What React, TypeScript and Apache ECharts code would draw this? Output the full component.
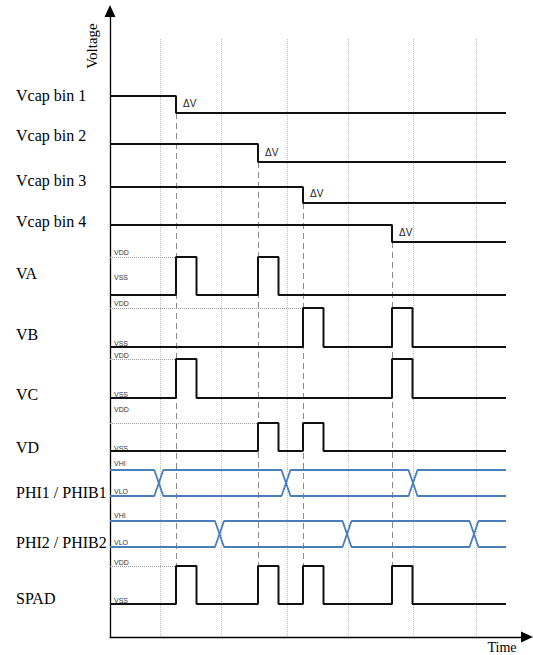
import React, { useEffect, useRef } from "react";
import * as echarts from "echarts";

// ---------------- data (time units, levels 0 = low, 1 = high) ----------------
const END_T = 39.6;
const X_MAX = 41.7;
const GRID_TIMES = [5.0, 11.1, 17.7, 23.8, 30.3, 36.6];
const VCAP_NAMES = ["Vcap bin 1", "Vcap bin 2", "Vcap bin 3", "Vcap bin 4"];
const VCAP_STEP_TIMES = [6.6, 14.8, 19.3, 28.2];
const PULSE_WIDTH = 2.05;
const VA_PULSES = [6.6, 14.8];
const VB_PULSES = [19.3, 28.2];
const VC_PULSES = [6.6, 28.2];
const VD_PULSES = [14.8, 19.3];
const SPAD_PULSES = [6.6, 14.8, 19.3, 28.2];
const PHI1_CROSS = [4.88, 17.6, 30.3];
const PHI2_CROSS = [10.95, 23.7, 36.4];
const CROSS_WIDTH = 0.9;

// ---------------- layout (page pixels) ----------------
const AXIS_BOTTOM = 637;
const GRID_TOP_Y = 39;
const DASH_END_Y = 566;
const VCAP_LAYOUT = [
  { high: 96, low: 113, labelY: 95 },
  { high: 144, low: 162, labelY: 135 },
  { high: 187, low: 203, labelY: 180 },
  { high: 225, low: 242, labelY: 221 },
];
const PULSE_LANES = [
  { name: "VA", pulses: VA_PULSES, high: 257, low: 295, labelY: 273, hi: "VDD", lo: "VSS", hiY: 252, loY: 277 },
  { name: "VB", pulses: VB_PULSES, high: 308, low: 347, labelY: 334, hi: "VDD", lo: "VSS", hiY: 303, loY: 343 },
  { name: "VC", pulses: VC_PULSES, high: 359, low: 398, labelY: 394, hi: "VDD", lo: "VSS", hiY: 355, loY: 394 },
  { name: "VD", pulses: VD_PULSES, high: 423, low: 451, labelY: 447, hi: "VDD", lo: "VSS", hiY: 409, loY: 448 },
];
const PHI_LANES = [
  { name: "PHI1 / PHIB1", cross: PHI1_CROSS, high: 470, low: 496, labelY: 492, hi: "VHI", lo: "VLO", hiY: 463, loY: 491 },
  { name: "PHI2 / PHIB2", cross: PHI2_CROSS, high: 521, low: 547, labelY: 542, hi: "VHI", lo: "VLO", hiY: 515, loY: 542 },
];
const SPAD_LANE = { name: "SPAD", pulses: SPAD_PULSES, high: 566, low: 604, labelY: 598, hi: "VDD", lo: "VSS", hiY: 562, loY: 600 };

const GRID_LEFT = 110;
const GRID_WIDTH = 417;
const MASTER_TOP = 11;
const py = (y: number) => AXIS_BOTTOM - y;

const SERIF = "'Liberation Serif', 'Times New Roman', serif";
const SANS = "'Liberation Sans', Arial, sans-serif";
const BLUE = "#4a7ebb";
const BLACK = "#111";

function pulseData(starts: number[]) {
  const pts: number[][] = [[0, 0]];
  starts.forEach((s) => {
    pts.push([s, 0], [s, 1], [s + PULSE_WIDTH, 1], [s + PULSE_WIDTH, 0]);
  });
  pts.push([END_T, 0]);
  return pts;
}
function phiData(crosses: number[], startHigh: boolean) {
  let lvl = startHigh ? 1 : 0;
  const pts: number[][] = [[0, lvl]];
  crosses.forEach((c) => {
    pts.push([c - CROSS_WIDTH / 2, lvl]);
    lvl = 1 - lvl;
    pts.push([c + CROSS_WIDTH / 2, lvl]);
  });
  pts.push([END_T, lvl]);
  return pts;
}
function vcapData(step: number) {
  return [[0, 1], [step, 1], [step, 0], [END_T, 0]];
}

export default function App() {
  const ref = useRef<HTMLDivElement>(null);
  useEffect(() => {
    document.body.style.margin = "0";
    if (!ref.current) return;
    const chart = echarts.init(ref.current, undefined, { renderer: "svg" });

    const grids: any[] = [{ left: GRID_LEFT, top: MASTER_TOP, width: GRID_WIDTH, height: AXIS_BOTTOM - MASTER_TOP }];
    const xAxes: any[] = [
      {
        gridIndex: 0, type: "value", min: 0, max: X_MAX,
        axisLine: { show: true, symbol: ["none", "triangle"], symbolSize: [11, 12], lineStyle: { color: "#000", width: 1.3 } },
        axisTick: { show: false }, axisLabel: { show: false }, splitLine: { show: false },
      },
    ];
    const yAxes: any[] = [
      {
        gridIndex: 0, type: "value", min: 0, max: AXIS_BOTTOM - MASTER_TOP,
        axisLine: { show: true, symbol: ["none", "triangle"], symbolSize: [11, 12], lineStyle: { color: "#000", width: 1.3 } },
        axisTick: { show: false }, axisLabel: { show: false }, splitLine: { show: false },
      },
    ];
    const series: any[] = [];
    const graphics: any[] = [];

    const addLane = (high: number, low: number) => {
      const idx = grids.length;
      grids.push({ left: GRID_LEFT, width: GRID_WIDTH, top: high, height: low - high });
      xAxes.push({ gridIndex: idx, type: "value", min: 0, max: X_MAX, show: false });
      yAxes.push({ gridIndex: idx, type: "value", min: 0, max: 1, show: false });
      return idx;
    };
    const laneLabel = (text: string, y: number) =>
      graphics.push({ type: "text", x: 16, y, style: { text, font: `16px ${SERIF}`, fill: "#000", verticalAlign: "middle" } });
    const smallLabel = (text: string, y: number) =>
      graphics.push({ type: "text", x: 114, y, style: { text, font: `7px ${SANS}`, fill: "#333", verticalAlign: "middle" } });

    // vertical grid lines (dotted)
    series.push({
      type: "lines", coordinateSystem: "cartesian2d", xAxisIndex: 0, yAxisIndex: 0, silent: true,
      lineStyle: { color: "#bdbdbd", width: 1, type: "dotted", opacity: 1 },
      data: GRID_TIMES.map((t) => ({ coords: [[t, py(GRID_TOP_Y)], [t, py(AXIS_BOTTOM)]] })),
    });
    // dashed event lines
    series.push({
      type: "lines", coordinateSystem: "cartesian2d", xAxisIndex: 0, yAxisIndex: 0, silent: true,
      lineStyle: { color: "#8a8a8a", width: 1, type: [6, 4], opacity: 1 },
      data: VCAP_STEP_TIMES.map((t, i) => ({ coords: [[t, py(VCAP_LAYOUT[i].low)], [t, py(DASH_END_Y)]] })),
    });

    // Vcap lanes
    VCAP_NAMES.forEach((name, i) => {
      const L = VCAP_LAYOUT[i];
      const idx = addLane(L.high, L.low);
      series.push({
        type: "line", xAxisIndex: idx, yAxisIndex: idx, data: vcapData(VCAP_STEP_TIMES[i]),
        showSymbol: false, clip: false, lineStyle: { color: BLACK, width: 2 },
        markPoint: {
          symbol: "circle", symbolSize: 0, silent: true,
          data: [{ coord: [VCAP_STEP_TIMES[i], 0] }],
          label: { show: true, formatter: "ΔV", position: "right", distance: 5, offset: [2, -10], color: "#222", fontSize: 10, fontFamily: SANS },
        },
      });
      laneLabel(name, L.labelY);
    });

    // pulse lanes
    [...PULSE_LANES, SPAD_LANE].forEach((L) => {
      const idx = addLane(L.high, L.low);
      series.push({
        type: "lines", coordinateSystem: "cartesian2d", xAxisIndex: idx, yAxisIndex: idx, silent: true,
        lineStyle: { color: "#9a9a9a", width: 1, type: "dotted", opacity: 1 },
        data: [{ coords: [[0, 1], [L.pulses[0], 1]] }],
      });
      series.push({
        type: "line", xAxisIndex: idx, yAxisIndex: idx, data: pulseData(L.pulses),
        showSymbol: false, clip: false, lineStyle: { color: BLACK, width: 2 },
      });
      laneLabel(L.name, L.labelY);
      smallLabel(L.hi, L.hiY);
      smallLabel(L.lo, L.loY);
    });

    // clock lanes
    PHI_LANES.forEach((L) => {
      const idx = addLane(L.high, L.low);
      [true, false].forEach((startHigh) =>
        series.push({
          type: "line", xAxisIndex: idx, yAxisIndex: idx, data: phiData(L.cross, startHigh),
          showSymbol: false, clip: false, lineStyle: { color: BLUE, width: 1.8 },
        })
      );
      laneLabel(L.name, L.labelY);
      smallLabel(L.hi, L.hiY);
      smallLabel(L.lo, L.loY);
    });

    graphics.push({
      type: "text", x: 92, y: 46, rotation: Math.PI / 2,
      style: { text: "Voltage", font: `15px ${SERIF}`, fill: "#000", align: "center", verticalAlign: "middle" },
    });
    graphics.push({
      type: "text", x: 502, y: 647,
      style: { text: "Time", font: `14px ${SERIF}`, fill: "#000", align: "center", verticalAlign: "middle" },
    });

    chart.setOption({
      animation: false,
      backgroundColor: "#fff",
      grid: grids,
      xAxis: xAxes,
      yAxis: yAxes,
      series,
      graphic: graphics,
    });
    return () => chart.dispose();
  }, []);
  return <div ref={ref} style={{ width: 533, height: 655 }} />;
}
